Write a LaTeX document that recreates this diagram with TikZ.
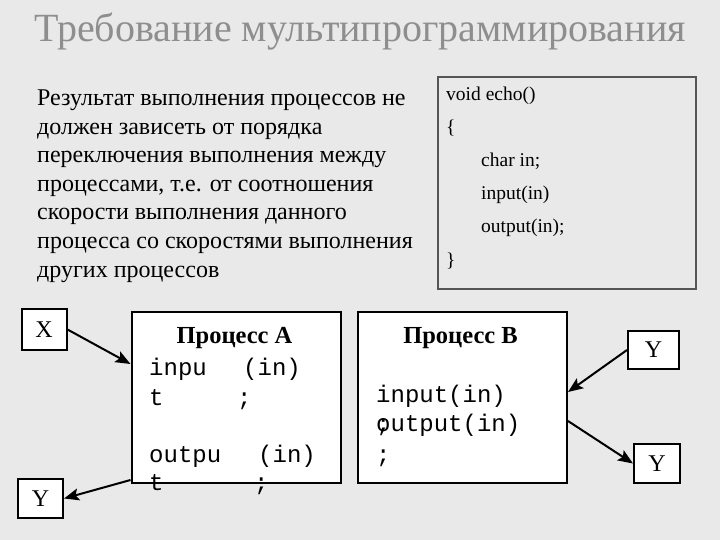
\documentclass[tikz,border=0pt]{standalone}
\usepackage{fontspec}
\setmainfont{Liberation Serif}
\setmonofont{Liberation Mono}
\usepackage{xcolor}
\usetikzlibrary{arrows.meta,positioning}
\definecolor{slidebg}{HTML}{E9E9E9}
\definecolor{titlegray}{HTML}{8E8E8E}
\definecolor{framegray}{HTML}{555555}

\begin{document}
\begin{tikzpicture}[
  x=1pt,y=-1pt,
  proc/.style={draw,line width=2pt,fill=white,minimum width=209pt,minimum height=171pt,inner sep=0pt},
  letter/.style={draw,line width=2pt,fill=white,inner sep=0pt,font=\fontsize{24}{28}\selectfont},
  code/.style={anchor=base west,inner sep=0pt,font=\fontsize{24}{28}\ttfamily},
  head/.style={anchor=base,inner sep=0pt,font=\fontsize{24.5}{28}\bfseries},
  arr/.style={-{Stealth[length=15pt,width=12pt,inset=3pt]},line width=2pt}]
\fill[slidebg] (0,0) rectangle (720,540);
\node[anchor=base,inner sep=0pt,text=titlegray,font=\fontsize{40}{44}\selectfont] (title) at (360,42) {Требование мультипрограммирования};
\foreach \txt [count=\i from 0] in {Результат выполнения процессов не,должен зависеть от порядка,
    переключения выполнения между,{процессами, т.е. от соотношения},скорости выполнения данного,
    процесса со скоростями выполнения,других процессов}
  \node[anchor=base west,inner sep=0pt,font=\fontsize{24}{28.5}\selectfont] (intro\i) at (37,106+28.5*\i) {\txt};
% the echo() listing
\node[draw=framegray,line width=1.5pt,minimum width=258pt,minimum height=212pt,inner sep=0pt] (echobox) at (567,183) {};
\foreach \txt/\dx [count=\i from 0] in {void echo()/0,\{/0,char in;/35,input(in)/35,output(in);/35,\}/0}
  \node[anchor=base west,inner sep=0pt,font=\fontsize{19.5}{24}\selectfont] (echo\i) at (446+\dx,101+33*\i) {\txt};
% two processes
\node[proc] (procA) at (236,397.5) {};
\node[proc] (procB) at (462.5,397.5) {};
\node[head] (headA) at (234.5,343) {Процесс А};
\node[head] (headB) at (460.5,343) {Процесс В};
\node[code] (a1) at (149,375) {inpu};
\node[code] (a2) at (243,375) {(in)};
\node[code] (a3) at (149,405) {t};
\node[code] (a4) at (237,405) {;};
\node[code] (a5) at (149,462) {outpu};
\node[code] (a6) at (258,462) {(in)};
\node[code] (a7) at (149,490) {t};
\node[code] (a8) at (254,490) {;};
\node[code] (b1) at (376,402) {input(in)};
\node[code] (b2) at (376,431) {output(in)};
\node[code] (b3) at (376,431) {;};
\node[code] (b4) at (376,462) {;};
% inputs and outputs
\node[letter,minimum width=45pt,minimum height=41pt] (xin) at (44,329.5) {X};
\node[letter,minimum width=45pt,minimum height=39pt] (yout) at (40.5,498.5) {Y};
\node[letter,minimum width=51pt,minimum height=38pt] (yin) at (653.5,350) {Y};
\node[letter,minimum width=46pt,minimum height=39pt] (yres) at (657,463.5) {Y};
\draw[arr] (xin.east) -- ([yshift=33.5pt]procA.west);
\draw[arr] ([yshift=-82.5pt]procA.west) -- (yout.east);
\draw[arr] (yin.west) -- ([yshift=5.5pt]procB.east);
\draw[arr] ([yshift=-23.5pt]procB.east) -- (yres.west);
\end{tikzpicture}
\end{document}
